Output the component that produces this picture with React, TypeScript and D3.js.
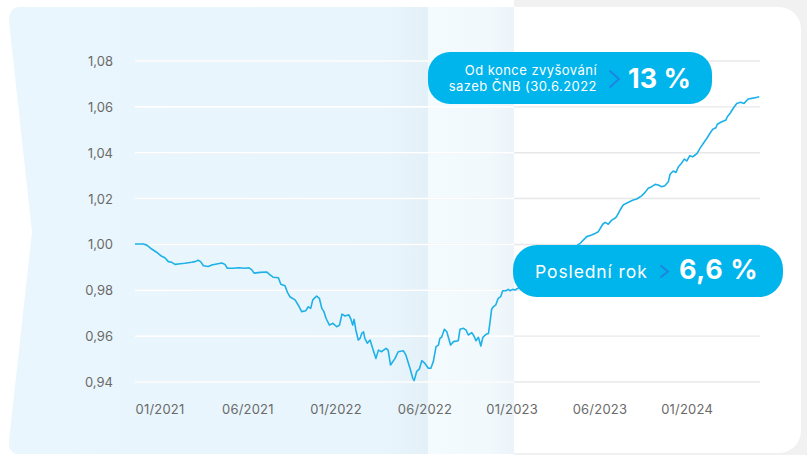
import React from 'react';
import * as d3 from 'd3';

// weeks since start of series and fund index value
const weeks = [
  0, 2.4, 3.4, 4.8, 6.2, 7.7, 8.6, 9.6, 10.6, 11.5, 13.0, 14.4, 16.3, 17.3, 18.2, 18.9, 19.7, 21.1, 22.1, 23.5,
  25.0, 25.9, 26.6, 28.3, 29.8, 31.7, 32.8, 33.6, 34.3, 36.0, 37.9, 38.9, 39.8, 41.3, 42.0, 43.2, 43.9, 44.6, 46.1, 47.0,
  48.0, 49.2, 49.9, 50.6, 51.2, 52.3, 53.1, 53.8, 54.4, 55.0, 56.0, 57.0, 58.1, 58.9, 59.6, 60.5, 61.6, 62.2, 62.7, 63.1,
  63.6, 64.3, 64.8, 65.3, 65.8, 66.2, 66.9, 67.7, 68.6, 69.4, 70.1, 71.0, 72.3, 72.9, 73.6, 74.9, 75.8, 77.3, 78.0, 79.2,
  80.0, 80.4, 81.1, 81.9, 82.6, 83.5, 84.5, 85.2, 85.9, 86.7, 87.4, 87.8, 88.3, 89.1, 89.8, 90.2, 90.9, 91.7, 93.1, 93.6,
  94.6, 95.3, 96.0, 97.0, 97.6, 98.2, 98.9, 99.6, 100.2, 101.1, 101.8, 102.2, 102.7, 103.2, 103.9, 104.6, 105.3, 105.9, 106.8, 107.5,
  108.0, 108.8, 109.4, 110.9, 112.3, 113.8, 115.2, 116.6, 118.1, 119.5, 121.0, 122.4, 123.8, 125.3, 126.7, 128.2, 129.1, 130.1, 131.5, 132.5,
  133.4, 134.7, 135.4, 136.3, 137.3, 138.2, 138.7, 139.7, 140.6, 142.1, 143.5, 144.5, 145.9, 146.9, 147.8, 148.8, 149.8, 150.7, 151.7, 152.6,
  153.6, 154.1, 155.0, 155.8, 156.5, 157.4, 158.2, 158.9, 159.8, 160.6, 161.3, 161.9, 162.7, 163.7, 164.7, 165.6, 166.4, 167.3, 167.7, 169.0,
  170.2, 170.6, 171.4, 172.3, 173.3, 174.4, 175.4, 176.6, 177.6, 178.6, 179.8,
];

const values = [
  1.0002, 1.0002, 0.9997, 0.998, 0.9966, 0.9948, 0.9942, 0.9925, 0.9922, 0.9913, 0.9916, 0.9918, 0.9922, 0.9925, 0.9931, 0.9925, 0.9907, 0.9904, 0.991, 0.9915,
  0.9919, 0.9913, 0.9896, 0.9896, 0.9898, 0.9896, 0.9898, 0.989, 0.9875, 0.9878, 0.988, 0.9867, 0.9857, 0.9855, 0.9826, 0.982, 0.9791, 0.9772, 0.9758, 0.9736,
  0.9707, 0.9711, 0.9728, 0.9721, 0.9758, 0.9775, 0.9765, 0.9721, 0.9707, 0.9678, 0.9648, 0.9656, 0.9641, 0.9648, 0.9696, 0.9688, 0.9693, 0.9673, 0.9648, 0.9673,
  0.9627, 0.9583, 0.959, 0.9612, 0.9619, 0.959, 0.9569, 0.9583, 0.9539, 0.9503, 0.9539, 0.9532, 0.9547, 0.9539, 0.9474, 0.9503, 0.9532, 0.9536, 0.9518, 0.946,
  0.9416, 0.9406, 0.9445, 0.9457, 0.9493, 0.9481, 0.946, 0.946, 0.9488, 0.9554, 0.9561, 0.959, 0.9595, 0.963, 0.9619, 0.9597, 0.9561, 0.9576, 0.958, 0.963,
  0.9634, 0.9627, 0.9605, 0.9615, 0.9601, 0.958, 0.9595, 0.9557, 0.9595, 0.9608, 0.9612, 0.9656, 0.9717, 0.9728, 0.9736, 0.9765, 0.9772, 0.9798, 0.9798, 0.9804,
  0.9798, 0.9804, 0.9801, 0.9814, 0.9823, 0.984, 0.9858, 0.9875, 0.9893, 0.9906, 0.9923, 0.9941, 0.9958, 0.9976, 0.9989, 1.0005, 1.0019, 1.0034, 1.0041, 1.0048,
  1.0055, 1.0088, 1.0096, 1.0088, 1.0106, 1.0114, 1.0121, 1.015, 1.0172, 1.0184, 1.0194, 1.0198, 1.0212, 1.0227, 1.0245, 1.0252, 1.0262, 1.0259, 1.0252, 1.0256,
  1.0273, 1.0306, 1.032, 1.0314, 1.0339, 1.0354, 1.0372, 1.0364, 1.0387, 1.0382, 1.039, 1.0397, 1.0419, 1.0441, 1.0463, 1.0485, 1.0502, 1.0509, 1.0524, 1.0535,
  1.0543, 1.0557, 1.0572, 1.0594, 1.0615, 1.062, 1.0615, 1.0634, 1.0637, 1.064, 1.0644,
];

const xTickLabels = ['01/2021', '06/2021', '01/2022', '06/2022', '01/2023', '06/2023', '01/2024'];
const xTickWeeks = [7.2, 32.5, 57.9, 83.5, 108.6, 133.9, 159.0];
const yTicks = [0.94, 0.96, 0.98, 1.0, 1.02, 1.04, 1.06, 1.08];

const callout1Lines = ['Od konce zvyšování', 'sazeb ČNB (30.6.2022'];
const callout1Value = '13 %';
const callout2Label = 'Poslední rok';
const callout2Value = '6,6 %';

const W = 807;
const H = 455;
const font = "Inter, 'Open Sans', sans-serif";
const lineColor = '#1db1e8';
const calloutColor = '#00b4ec';
const chevronColor = '#2280de';

const fmt = (v: number) => d3.format('.2f')(v).replace('.', ',');

export default function App() {
  const x = d3.scaleLinear().domain([0, 180]).range([135, 760]);
  const y = d3.scaleLinear().domain([0.94, 1.08]).range([382, 61]);

  const line = d3
    .line<number>()
    .x((_, i) => x(weeks[i]))
    .y((d) => y(d));

  const panelEdge = 514;

  return (
    <svg
      width={W}
      height={H}
      style={{ position: 'absolute', left: 0, top: 0, display: 'block' }}
      fontFamily={font}
    >
      <defs>
        <linearGradient id="mainPanel" x1="0" x2="1" y1="0" y2="0">
          <stop offset="0" stopColor="#e9f6fd" />
          <stop offset="0.9" stopColor="#e8f5fc" />
          <stop offset="1" stopColor="#e3f0f7" />
        </linearGradient>
        <linearGradient id="palePanel" x1="0" x2="1" y1="0" y2="0">
          <stop offset="0" stopColor="#f3fbff" />
          <stop offset="0.7" stopColor="#f1f9fd" />
          <stop offset="1" stopColor="#ecf4f9" />
        </linearGradient>
      </defs>

      {/* card background */}
      <rect width={W} height={H} fill="#ffffff" />
      <rect x={panelEdge} width={W - panelEdge} height={H} fill="#f1f1f1" />
      <rect x={-30} y={7} width={831} height={446} rx={22} fill="#ffffff" />

      {/* blue panels */}
      <path
        d="M 20,7 L 428,7 L 428,454 L 20,454 Q 8,454 9,441 L 32,232 L 9,21 Q 9,7 20,7 Z"
        fill="url(#mainPanel)"
      />
      <rect x={428} y={7} width={panelEdge - 428} height={447} fill="url(#palePanel)" />

      {/* grid */}
      {yTicks.map((t) => (
        <g key={t}>
          <line x1={x(0)} x2={x(180)} y1={y(t)} y2={y(t)} stroke="#e8e8e8" strokeWidth={1.4} />
          <line x1={x(0)} x2={panelEdge} y1={y(t)} y2={y(t)} stroke="#ffffff" strokeWidth={1.6} />
          <text x={113} y={y(t)} textAnchor="end" dominantBaseline="central" fontSize={13} fill="#6a6a6a">
            {fmt(t)}
          </text>
        </g>
      ))}

      {xTickLabels.map((l, i) => (
        <text key={l} x={x(xTickWeeks[i])} y={409} textAnchor="middle" dominantBaseline="central" fontSize={13} fill="#6a6a6a" letterSpacing={0.2}>
          {l}
        </text>
      ))}

      {/* series */}
      <path d={line(values) || ''} fill="none" stroke={lineColor} strokeWidth={1.6} strokeLinejoin="round" />

      {/* callout: since end of rate hikes */}
      <rect x={428} y={52} width={284} height={52} rx={22} fill={calloutColor} />
      <text x={597} y={74.5} textAnchor="end" fontSize={13} fill="#ffffff" letterSpacing={0.45}>
        {callout1Lines[0]}
      </text>
      <text x={597} y={91} textAnchor="end" fontSize={13} fill="#ffffff" letterSpacing={0.45}>
        {callout1Lines[1]}
      </text>
      <polyline points="609.5,70.5 619,79 609.5,87.5" fill="none" stroke={chevronColor} strokeWidth={1.7} />
      <text x={628} y={88} fontSize={27} fontWeight={700} fill="#ffffff">
        {callout1Value}
      </text>

      {/* callout: last year */}
      <rect x={513} y={245} width={270} height={52} rx={24} fill={calloutColor} />
      <text x={535} y={278} fontSize={17.5} fill="#ffffff" letterSpacing={0.9}>
        {callout2Label}
      </text>
      <polyline points="660.5,265.5 668,271.5 660.5,277.5" fill="none" stroke={chevronColor} strokeWidth={1.7} />
      <text x={679} y={279} fontSize={27} fontWeight={700} fill="#ffffff" letterSpacing={0.6}>
        {callout2Value}
      </text>
    </svg>
  );
}
